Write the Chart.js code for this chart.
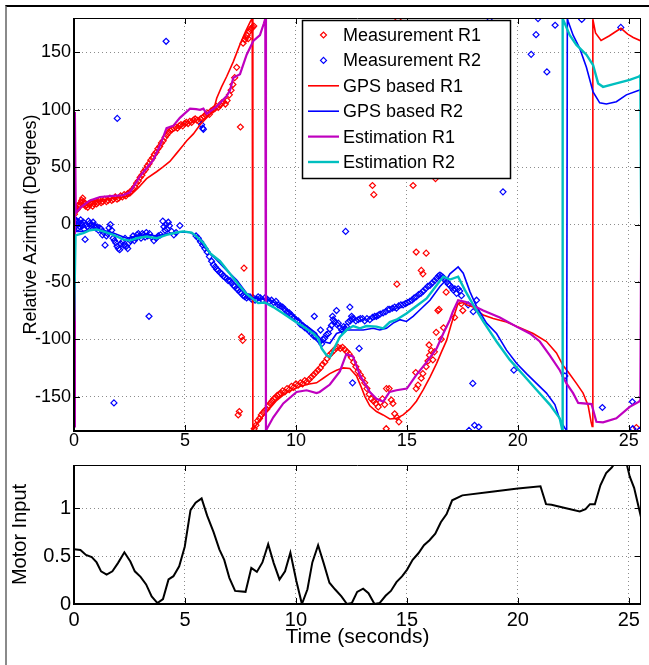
<!DOCTYPE html>
<html><head><meta charset="utf-8">
<script src="https://cdn.jsdelivr.net/npm/chart.js@4/dist/chart.umd.min.js"></script>
<style>
html,body{margin:0;padding:0;background:#fff;}
#wrap{position:relative;width:649px;height:665px;overflow:hidden;background:#fff;}
#frame{position:absolute;left:5px;top:5px;width:720px;height:720px;border-top:2px solid #000;border-left:2px solid #8a8a8a;}
canvas{position:absolute;left:0;}
</style></head><body>
<div id="wrap"><div id="frame"></div>
<canvas id="c1" width="649" height="452" style="top:0px"></canvas>
<canvas id="c2" width="649" height="213" style="top:452px"></canvas>
</div>
<script>
// ---------- tick labels ----------
const xTicks = [0, 5, 10, 15, 20, 25];
const azTicks = [-150, -100, -50, 0, 50, 100, 150];
const motorTicks = [0, 0.5, 1];

// ---------- GPS based R1 (red line) ----------
const gpsR1T = [0.0,0.2,0.42,0.7,1.02,1.4,1.77,2.2,2.52,2.9,3.27,3.72,4.0,4.32,4.62,4.92,5.08,5.38,5.68,5.98,6.28,6.43,6.65,6.88,7.18,7.48,7.75,7.95,8.03,
 8.06,8.3,8.7,9.1,9.6,10.2,10.6,10.93,11.23,11.53,11.83,12.13,12.43,12.73,12.95,13.11,13.33,13.63,13.93,14.23,14.53,14.83,15.13,15.43,15.74,16.04,16.34,16.56,16.79,17.0,17.3,17.55,17.69,17.99,18.44,18.89,19.49,20.09,20.69,21.29,21.74,22.04,22.27,22.64,22.94,23.17,23.3,23.35,
 23.38,23.5,23.75,24.13,24.4,24.65,24.95,25.2,25.55];
const gpsR1V = [8,13,18,20,21,22,23,24,25,32,40,46,50,55,62,69,73,79,87,93,99,110,120,129,142,157,169,177,179.5,
 -179.5,-172,-163,-154,-146,-141,-139,-138,-134,-130,-127,-125,-125.5,-132,-142,-150,-158,-163,-166,-169.5,-169,-166,-161,-154,-144,-133,-121,-111,-101,-87,-69,-68,-70,-72,-79,-82,-85,-90,-95,-102,-112,-123,-128.5,-138.5,-147,-158,-172,-176,
 179,167,160.5,164.5,168,171,166,163,160];

// ---------- GPS based R2 (blue line) ----------
const gpsR2T = [0.0,0.1,0.42,1.02,1.77,2.37,2.82,3.27,3.72,4.17,4.77,5.23,5.53,5.83,6.13,6.43,6.88,7.33,7.78,8.08,8.38,8.83,9.43,10.03,10.63,10.93,11.08,11.23,11.53,11.83,12.28,12.58,13.03,13.48,13.78,14.08,14.38,14.68,14.98,15.28,15.58,16.04,16.49,16.79,16.94,17.31,17.54,17.84,18.14,18.59,19.04,19.49,19.94,20.39,20.84,21.29,21.67,21.89,22.12,22.2,
 22.23,22.27,22.49,22.79,23.09,23.39,23.69,23.99,24.44,24.89,25.46,25.56];
const gpsR2V = [2,-6,-6,-3.5,-7.5,-12,-10,-8.5,-10,-8,-6.5,-7,-10,-19,-25,-31,-40,-48.5,-60,-64,-64.5,-66,-72,-82,-90.5,-95,-103.5,-102,-103.5,-95,-92,-92,-92,-90.5,-92,-90.5,-86,-83,-84.5,-80,-74.5,-66,-54,-48,-43,-37,-42.5,-58.5,-71.5,-86,-95,-109.5,-121,-130,-138.5,-147,-157,-170,-177.5,-179.5,
 179.5,177,165,153.5,137,115.5,106,105,107,113,117,118];

// ---------- Estimation R1 (magenta line) ----------
const estR1T = [0.0,0.04,0.08,0.3,0.72,1.17,1.77,2.2,2.52,2.97,3.27,3.57,3.9,4.17,4.47,4.77,5.23,5.5,5.68,5.83,5.98,6.43,6.88,7.03,7.18,7.48,7.78,8.08,8.38,8.55,8.62,
 8.65,8.98,9.43,10.03,10.48,10.93,11.07,11.53,11.98,12.27,12.57,12.9,13.33,13.63,13.93,14.08,14.22,14.53,15.0,15.43,15.89,16.34,16.64,16.94,17.07,17.31,17.67,17.97,18.44,19.19,19.94,20.54,20.99,21.44,21.89,22.19,22.49,22.72,23.32,23.54,23.84,24.44,25.04,25.46,25.52,25.56];
const estR1V = [-176,98,10,15,21,24,25,25.5,28,42,49,56,70,84,86,93,101,100.5,100,101,96.5,103,112,117,128,131,148,160,165,175,179.5,
 -179.5,-168,-156,-146,-144.5,-147,-146,-139.5,-128,-113,-115,-132,-146,-152,-154.5,-150,-146,-144.5,-143,-131,-120,-108,-95,-83,-76,-66,-67.5,-70.5,-75,-81,-89,-95,-102,-114,-127,-138.5,-147,-155.5,-156.5,-172,-172.5,-169,-159,-154.5,-153,0];

// ---------- Estimation R2 (cyan line) ----------
const estR2T = [0.0,0.07,0.42,0.72,1.02,1.32,1.77,2.22,2.52,2.82,3.27,3.72,4.17,4.62,4.92,5.3,5.53,5.83,6.13,6.58,7.03,7.4,7.75,8.0,8.3,8.6,8.98,9.43,9.88,10.33,10.78,11.01,11.16,11.38,11.53,11.76,11.98,12.28,12.58,12.88,13.18,13.63,13.93,14.23,14.53,14.98,15.43,15.89,16.34,16.64,16.94,17.31,17.61,17.99,18.44,19.04,19.64,20.24,20.84,21.44,21.89,22.0,
 22.02,22.34,22.64,23.09,23.39,23.62,23.84,24.44,25.04,25.46,25.52,25.56];
const estR2V = [-84,-9.5,-7.5,-5,-4.3,-6,-9,-13,-14,-12,-10.5,-12,-9,-7,-6,-7,-10.5,-16,-25,-32,-43,-52,-60,-64,-68.5,-68,-72,-77.5,-83.5,-89,-95,-99.5,-108,-114,-115.5,-106.5,-98,-92,-88.5,-90.5,-88.5,-89,-90.5,-85,-83,-77.5,-71,-64.5,-53,-45.5,-48,-45.5,-57,-70,-84.5,-102,-118,-131,-144,-157,-169,-179,
 179.5,165,156.5,148,139,123,120,123,126,129,130,-3];

// ---------- Measurement R1 (red diamonds) [t, deg] ----------
const measR1 = [[0.02,9],[0.06,12],[0.1,15],[0.14,13],[0.18,16],[0.22,17],[0.27,16],[0.31,19],[0.35,21],[0.39,23],[0.43,20],[0.47,18],[0.52,16],[0.57,17],[0.62,15],[0.67,18],[0.72,17],[0.78,19],[0.84,16],[0.9,18],[0.96,20],[1.02,18],[1.08,19],[1.15,21],[1.22,19],[1.3,20],[1.38,22],[1.46,20],[1.54,21],[1.62,23],[1.7,21],[1.78,22],[1.86,24],[1.94,22],[2.02,23],[2.1,25],[2.18,24],[2.26,26],[2.34,25],[2.42,27],[2.5,28],[2.58,29],[2.66,31],[2.74,33],[2.82,36],[2.9,38],[2.98,41],[3.06,43],[3.14,46],[3.22,48],[3.3,51],[3.38,53],[3.46,56],[3.54,58],[3.62,61],[3.7,63],[3.78,66],[3.86,68],[3.94,71],[4.02,73],[4.1,76],[4.18,78],[4.26,80],[4.34,82],[4.42,83],[4.5,84],[4.58,85],[4.66,84],[4.74,86],[4.82,87],[4.9,86],[4.98,88],[5.06,89],[5.14,88],[5.22,90],[5.3,89],[5.38,91],[5.46,92],[5.54,91],[5.62,90],[5.7,92],[5.78,93],[5.86,94],[5.94,96],[6.02,97],[6.1,96],[6.18,99],[6.26,100],[6.34,101],[6.42,103],[6.5,102],[6.58,104],[6.66,106],[6.74,107],[6.82,105],[6.9,108],[7.0,113],[7.08,117],[7.16,122],[7.24,128],[7.33,137],[7.5,85],[7.62,158],[7.7,161],[7.75,163],[7.8,165],[7.85,162],[7.9,168],[7.95,170],[8.0,171],[8.05,172],[8.1,173],
 [7.4,-166],[7.45,-163],[7.55,-98],[7.6,-101],[7.66,-38],[13.45,34],[13.51,26],[15.28,34],[16.29,40],[14.6,179],
 [8.12,-178],[8.2,-175],[8.28,-171],[8.36,-169],[8.44,-166],[8.52,-164],[8.6,-162],[8.68,-161],[8.76,-158],[8.84,-156],[8.92,-154],[9.0,-152],[9.08,-151],[9.16,-149],[9.24,-148],[9.32,-147],[9.4,-145],[9.5,-146],[9.6,-143],[9.7,-144],[9.8,-141],[9.9,-142],[10.0,-139],[10.1,-140],[10.2,-138],[10.3,-139],[10.4,-136],[10.5,-137],[10.6,-135],[10.7,-133],[10.8,-131],[10.9,-129],[11.0,-127],[11.1,-125],[11.2,-122],[11.3,-120],[11.4,-117],[11.5,-114],[11.6,-112],[11.7,-110],[11.8,-108],[11.9,-107],[12.0,-108],[12.1,-107],[12.2,-109],[12.3,-111],[12.4,-113],[12.5,-116],[12.6,-120],[12.7,-124],[12.8,-128],[12.9,-131],[13.0,-134],[13.1,-138],[13.2,-143],[13.3,-148],[13.4,-152],[13.5,-154],[13.6,-156],[13.71,-159],[13.8,-155],[13.9,-152],[14.0,-157],[14.07,-178],[14.08,-143],[14.2,-143],[14.3,-153],[14.37,-156],[14.45,-165],[14.55,-168],[14.64,-172],[14.55,-52],
 [15.4,-129],[15.42,-143],[15.5,-140],[15.65,-134],[15.72,-130],[15.87,-124],[15.95,-119],[16.0,-105],[16.02,-114],[16.1,-110],[16.17,-118],[16.24,-111],[16.32,-94],[16.4,-75],[16.45,-74],[16.55,-100],[16.65,-90],[16.77,-59],[17.15,-81],[17.45,-69],[17.52,-75],
 [15.65,-40],[15.72,-43],[15.42,-24],[15.87,-25],[25.34,-177]];

// ---------- Measurement R2 (blue diamonds) [t, deg] ----------
const measR2 = [[0.03,5],[0.06,-2],[0.1,3],[0.14,0],[0.18,-3],[0.22,2],[0.27,-2],[0.3,4],[0.34,1],[0.38,-1],[0.42,2],[0.46,-4],[0.5,-13],[0.55,0],[0.6,-2],[0.65,3],[0.7,1],[0.75,-1],[0.8,0],[0.86,2],[0.92,-1],[0.98,-3],[1.04,-2],[1.1,-5],[1.16,-3],[1.22,-4],[1.28,-9],[1.34,-7],[1.4,-18],[1.46,-10],[1.52,-8],[1.58,-3],[1.64,0],[1.7,-5],[1.76,-12],[1.82,-14],[1.88,-16],[1.94,-19],[2.0,-21],[2.06,-22],[2.12,-17],[2.18,-15],[2.24,-18],[2.3,-12],[2.36,-19],[2.42,-21],[2.48,-16],[2.54,-14],[2.6,-13],[2.66,-10],[2.72,-14],[2.78,-12],[2.84,-9],[2.9,-8],[2.96,-10],[3.02,-12],[3.08,-8],[3.14,-9],[3.2,-11],[3.26,-7],[3.32,-10],[3.4,-8],[3.5,-11],[3.6,-14],[3.7,-12],[3.8,-10],[3.9,-9],[4.0,3],[4.05,-2],[4.1,-5],[4.15,0],[4.2,-4],[4.25,2],[4.3,-1],[4.4,-6],[4.5,-9],[4.6,-7],[4.77,-1],
 [1.95,92.5],[4.15,159.7],[5.75,87],[5.8,84],[5.83,83],[3.38,-80],[1.8,-155.5],
 [5.5,-10],[5.6,-12],[5.7,-15],[5.8,-18],[5.9,-21],[6.0,-24],[6.1,-28],[6.2,-32],[6.28,-35],[6.36,-37],[6.43,-39],[6.5,-40],[6.58,-42],[6.66,-43],[6.73,-45],[6.8,-46],[6.88,-47],[6.95,-49],[7.03,-49],[7.1,-51],[7.18,-53],[7.25,-54],[7.33,-56],[7.4,-57],[7.48,-59],[7.55,-60],[7.63,-62],[7.7,-63],[7.78,-64],[7.85,-63],[7.93,-63],[8.0,-65],[8.08,-64],[8.16,-66],[8.23,-65],[8.3,-63],[8.4,-64],[8.5,-66],[8.6,-64],[8.7,-65],[8.8,-67],[8.9,-66],[9.0,-68],[9.1,-67],[9.2,-70],[9.3,-71],[9.4,-72],[9.5,-74],[9.6,-76],[9.7,-77],[9.8,-79],[9.9,-81],[10.0,-83],[10.1,-84],[10.2,-87],[10.3,-88],[10.4,-90],[10.5,-91],[10.6,-93],[10.7,-95],[10.8,-97],[10.9,-98],[11.0,-100],[11.1,-102],[11.16,-104],[11.22,-100],[11.3,-99],[11.38,-96],[11.46,-95],[11.53,-91],[11.6,-88],[11.68,-83],[11.76,-85],[11.84,-87],[11.91,-86],[12.0,-90],[12.06,-92],[12.15,-89],[12.22,-91],[12.28,-89],[12.36,-85],[12.45,-84],[12.52,-82],[12.6,-82],[12.7,-84],[12.81,-83],[12.9,-82],[13.0,-82],[13.1,-84],[13.2,-82],[13.33,-83],[13.45,-81],[13.55,-80],[13.63,-80],[13.72,-79],[13.8,-78],[13.93,-77],[14.05,-76],[14.15,-74],[14.23,-74],[14.35,-73],[14.45,-72],[14.53,-73],[14.63,-71],[14.73,-70],[14.83,-70],[14.93,-69],[15.03,-68],[15.13,-67],[15.23,-66],[15.33,-64],[15.43,-63],[15.53,-61],[15.63,-60],[15.74,-58],[15.84,-56],[15.94,-54],[16.04,-53],[16.14,-51],[16.24,-49],[16.34,-47],[16.42,-45],[16.49,-44],[16.56,-45],[16.63,-46],[16.71,-48],[16.8,-50],[16.87,-52],[16.94,-53],[17.02,-55],[17.09,-57],[17.16,-56],[17.24,-60],[17.31,-56],[17.38,-58],[17.46,-62],[17.76,-70],[17.99,-76],[18.14,-66],
 [10.83,-80],[11.11,-92],[11.65,-80],[11.83,-75],[12.43,-72],[12.51,-80],[12.24,-6],[12.85,-108],[12.55,-138],[17.97,-138.5],[18.05,-175],[18.24,-176.5],[17.8,-179.5],[19.33,28.5],[19.82,-127],[22.12,-132],[23.81,-159.5],[25.16,-154.5],[25.18,-178],[25.49,-179.5],[18.73,179.5],[20.91,179.5],[20.82,165.5],[20.6,148.3],[21.31,133],[21.68,173.7],[22.88,178.8],[24.64,171.8]];

// ---------- Motor input ----------
const motorT = [0.0,0.29,0.54,0.80,1.02,1.22,1.47,1.73,1.98,2.27,2.54,2.74,3.0,3.25,3.5,3.76,4.01,4.26,4.48,4.74,4.99,5.25,5.48,5.75,6.0,6.29,6.55,6.77,7.0,7.26,7.73,7.99,8.24,8.49,8.75,9.0,9.26,9.51,9.75,10.02,10.27,10.52,10.74,11.0,11.25,11.51,11.76,12.05,12.3,12.52,12.76,13.03,13.27,13.54,13.77,14.04,14.28,14.53,14.79,15.01,15.26,15.52,15.77,16.02,16.28,16.53,16.79,17.04,17.5,18.82,20.0,21.02,21.27,21.52,22.03,22.79,23.05,23.25,23.47,23.72,23.98,24.23,24.45,24.85,25.04,25.24,25.55];
const motorV = [0.572,0.565,0.514,0.49,0.435,0.342,0.308,0.342,0.428,0.541,0.445,0.342,0.284,0.205,0.079,0.01,0.051,0.257,0.291,0.394,0.6,0.983,1.06,1.106,0.925,0.753,0.572,0.462,0.274,0.137,0.127,0.377,0.336,0.435,0.627,0.428,0.257,0.342,0.538,0.24,0.0,0.154,0.435,0.616,0.428,0.223,0.154,0.079,0.0,0.01,0.127,0.161,0.113,0.0,0.01,0.086,0.137,0.229,0.291,0.36,0.462,0.531,0.616,0.668,0.736,0.856,0.942,1.086,1.137,1.175,1.209,1.233,1.045,1.038,1.01,0.969,0.993,1.045,1.045,1.243,1.37,1.428,1.5,1.52,1.336,1.216,0.908];

// ---------- helpers ----------
const xy = (T, V) => T.map((t, i) => ({x: t, y: V[i]}));
const pairs = P => P.map(p => ({x: p[0], y: p[1]}));
const FONT = '"Liberation Sans", Arial, Helvetica, sans-serif';
const RED = '#ff0000', BLUE = '#0000ff', MAG = '#bf00bf', CYAN = '#00bfbf';

const boxPlugin = {
  id: 'mbox',
  afterDraw(chart) {
    const {ctx, chartArea: a, scales: {x, y}} = chart;
    ctx.save();
    ctx.strokeStyle = '#000';
    ctx.lineWidth = 1;
    ctx.beginPath();
    x.ticks.forEach(t => {
      const px = Math.round(x.getPixelForValue(t.value)) + 0.5;
      ctx.moveTo(px, a.bottom); ctx.lineTo(px, a.bottom - 6);
      ctx.moveTo(px, a.top); ctx.lineTo(px, a.top + 6);
    });
    y.ticks.forEach(t => {
      const py = Math.round(y.getPixelForValue(t.value)) + 0.5;
      ctx.moveTo(a.left, py); ctx.lineTo(a.left + 6, py);
      ctx.moveTo(a.right, py); ctx.lineTo(a.right - 6, py);
    });
    ctx.stroke();
    ctx.beginPath();
    ctx.moveTo(a.left, a.top + 0.5); ctx.lineTo(a.right, a.top + 0.5);
    ctx.moveTo(a.right - 0.5, a.top); ctx.lineTo(a.right - 0.5, a.bottom);
    ctx.stroke();
    ctx.lineWidth = 2;
    ctx.beginPath();
    ctx.moveTo(a.left, a.top); ctx.lineTo(a.left, a.bottom);
    ctx.moveTo(a.left - 1, a.bottom); ctx.lineTo(a.right, a.bottom);
    ctx.stroke();
    ctx.restore();
  }
};

const legendPlugin = {
  id: 'mlegend',
  afterDraw(chart) {
    const ctx = chart.ctx;
    const bx = 302, by = 20, bw = 208, bh = 158;
    ctx.save();
    ctx.fillStyle = '#fff';
    ctx.fillRect(bx, by, bw, bh);
    ctx.strokeStyle = '#000';
    ctx.lineWidth = 1.5;
    ctx.strokeRect(bx + 0.5, by + 0.5, bw, bh);
    ctx.font = '18px ' + FONT;
    ctx.textBaseline = 'middle';
    ctx.textAlign = 'left';
    chart.data.datasets.forEach((ds, i) => {
      const yy = 35 + i * 25.4;
      if (ds.showLine) {
        ctx.strokeStyle = ds.borderColor;
        ctx.lineWidth = ds.borderWidth;
        ctx.beginPath(); ctx.moveTo(308, yy); ctx.lineTo(339, yy); ctx.stroke();
      } else {
        ctx.strokeStyle = ds.borderColor;
        ctx.lineWidth = 1.2;
        const r = 3, cx = 323.5;
        ctx.beginPath();
        ctx.moveTo(cx - r, yy); ctx.lineTo(cx, yy - r); ctx.lineTo(cx + r, yy); ctx.lineTo(cx, yy + r); ctx.closePath();
        ctx.stroke();
      }
      ctx.fillStyle = '#000';
      ctx.fillText(ds.label, 343, yy + 1);
    });
    ctx.restore();
  }
};

function xScale(height, pad, tickSize, withTitle) {
  return {
    type: 'linear', min: 0, max: 25.55,
    afterBuildTicks: s => { s.ticks = xTicks.map(v => ({value: v})); },
    afterFit: s => { s.height = height; },
    grid: {color: 'rgba(0,0,0,0.45)', lineWidth: 1, drawTicks: false},
    border: {display: false, dash: [1, 3]},
    ticks: {color: '#000', padding: pad, maxRotation: 0, autoSkip: false,
      font: {family: FONT, size: tickSize, lineHeight: 1}, callback: v => String(v)},
    title: withTitle ? {display: true, text: 'Time (seconds)', color: '#000',
      font: {family: FONT, size: 21, lineHeight: 1.2}, padding: {top: 0, bottom: 15}} : {display: false}
  };
}
function yScale(min, max, ticks, title, titlePad, tickSize, titleSize) {
  return {
    type: 'linear', min: min, max: max,
    afterBuildTicks: s => { s.ticks = ticks.map(v => ({value: v})); },
    afterFit: s => { s.width = 74; },
    grid: {color: 'rgba(0,0,0,0.45)', lineWidth: 1, drawTicks: false},
    border: {display: false, dash: [1, 3]},
    ticks: {color: '#000', padding: 3, autoSkip: false,
      font: {family: FONT, size: tickSize, lineHeight: 1}, callback: v => String(v)},
    title: {display: true, text: title, color: '#000',
      font: {family: FONT, size: titleSize, lineHeight: 1.2}, padding: {top: titlePad, bottom: 0}}
  };
}

const common = {
  responsive: false, animation: false, events: [],
  plugins: {legend: {display: false}, tooltip: {enabled: false}}
};

new Chart(document.getElementById('c1'), {
  type: 'scatter',
  data: {datasets: [
    {label: 'Measurement R1', data: pairs(measR1), showLine: false, pointStyle: 'rectRot', pointRadius: 3,
     borderColor: RED, backgroundColor: 'rgba(0,0,0,0)', pointBorderWidth: 1.2, order: 6},
    {label: 'Measurement R2', data: pairs(measR2), showLine: false, pointStyle: 'rectRot', pointRadius: 3,
     borderColor: BLUE, backgroundColor: 'rgba(0,0,0,0)', pointBorderWidth: 1.2, order: 5},
    {label: 'GPS based R1', data: xy(gpsR1T, gpsR1V), showLine: true, borderColor: RED, borderWidth: 1.6, pointRadius: 0, tension: 0, order: 4},
    {label: 'GPS based R2', data: xy(gpsR2T, gpsR2V), showLine: true, borderColor: BLUE, borderWidth: 1.6, pointRadius: 0, tension: 0, order: 3},
    {label: 'Estimation R1', data: xy(estR1T, estR1V), showLine: true, borderColor: MAG, borderWidth: 2.2, pointRadius: 0, tension: 0, order: 2},
    {label: 'Estimation R2', data: xy(estR2T, estR2V), showLine: true, borderColor: CYAN, borderWidth: 2.4, pointRadius: 0, tension: 0, order: 1}
  ]},
  options: Object.assign({}, common, {
    layout: {padding: {left: 0, top: 18, right: 8, bottom: 0}},
    scales: {
      x: xScale(21, 1, 18, false),
      y: yScale(-180, 180, azTicks, 'Relative Azimuth (Degrees)', 20, 18, 18)
    }
  }),
  plugins: [boxPlugin, legendPlugin]
});

new Chart(document.getElementById('c2'), {
  type: 'scatter',
  data: {datasets: [
    {label: 'Motor Input', data: xy(motorT, motorV), showLine: true, borderColor: '#000', borderWidth: 2, pointRadius: 0, tension: 0}
  ]},
  options: Object.assign({}, common, {
    layout: {padding: {left: 0, top: 9, right: 8, bottom: 0}},
    scales: {
      x: xScale(61, 6, 20, true),
      y: yScale(0, 1.455, motorTicks, 'Motor Input', 8, 20, 20)
    }
  }),
  plugins: [boxPlugin]
});
</script>
</body></html>
